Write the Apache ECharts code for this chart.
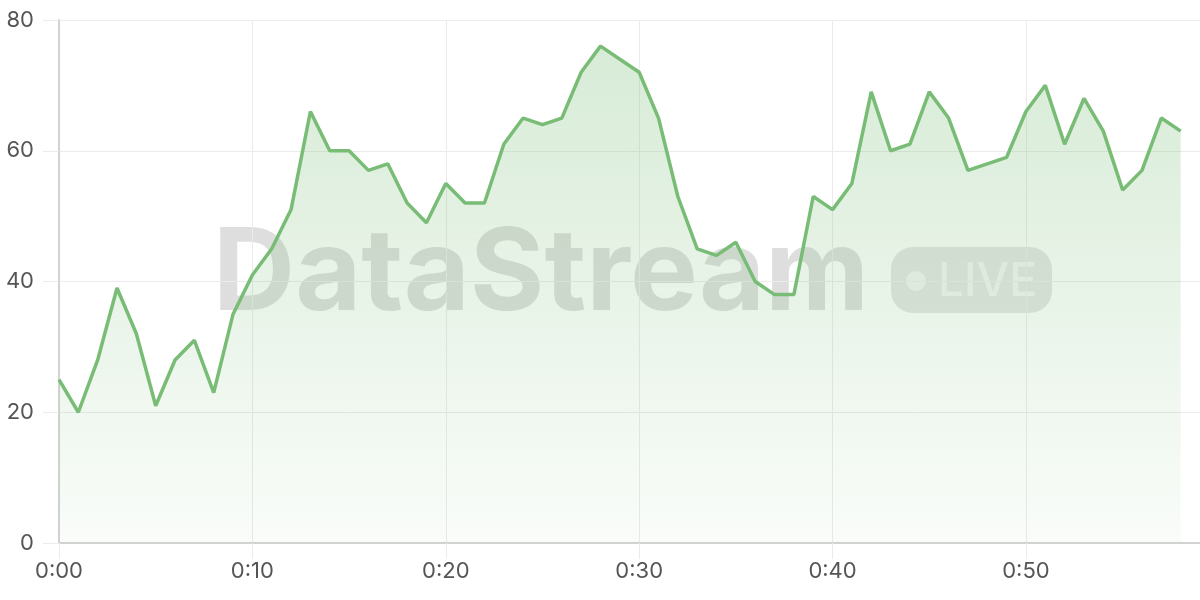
<!DOCTYPE html>
<html>
<head>
<meta charset="utf-8">
<script src="https://cdn.jsdelivr.net/npm/echarts@6/dist/echarts.min.js"></script>
<style>
  html, body { margin: 0; padding: 0; background: #fff; }
  #chart { width: 1200px; height: 600px; }
</style>
</head>
<body>
<div id="chart"></div>
<script>
// minutes 0:00 .. 0:59 (last slot has no reading yet)
const timeLabels = [];
for (let m = 0; m < 60; m++) {
  timeLabels.push('0:' + (m < 10 ? '0' + m : m));
}

const streamValues = [
  25, 20, 28, 39, 32, 21, 28, 31, 23, 35,
  41, 45, 51, 66, 60, 60, 57, 58, 52, 49,
  55, 52, 52, 61, 65, 64, 65, 72, 76, 74,
  72, 65, 53, 45, 44, 46, 40, 38, 38, 53,
  51, 55, 69, 60, 61, 69, 65, 57, 58, 59,
  66, 70, 61, 68, 63, 54, 57, 65, 63
];

const yTicks = [0, 20, 40, 60, 80];

const lineColor = '#78bc76';
const font = 'Inter, "Noto Sans", sans-serif';

const chart = echarts.init(document.getElementById('chart'));

chart.setOption({
  animation: false,
  grid: {
    left: 59,
    right: 0,
    top: 20,
    bottom: 57,
  },
  graphic: [
    {
      type: 'text',
      z: -10,
      silent: true,
      style: {
        text: 'DataStream',
        x: 541,
        y: 276,
        textAlign: 'center',
        textVerticalAlign: 'middle',
        font: '700 114px ' + font,
        fill: 'rgba(0,0,0,0.13)',
      },
    },
    {
      type: 'rect',
      z: -10,
      silent: true,
      shape: { x: 891, y: 247, width: 161, height: 66, r: 22 },
      style: { fill: 'rgba(0,0,0,0.10)' },
    },
    {
      type: 'circle',
      z: -9,
      silent: true,
      shape: { cx: 916, cy: 281, r: 10 },
      style: { fill: 'rgba(255,255,255,0.55)' },
    },
    {
      type: 'text',
      z: -9,
      silent: true,
      style: {
        text: 'LIVE',
        x: 938,
        y: 282,
        textAlign: 'left',
        textVerticalAlign: 'middle',
        font: '500 46px ' + font,
        fill: 'rgba(255,255,255,0.55)',
      },
    },
  ],
  xAxis: {
    type: 'category',
    data: timeLabels,
    boundaryGap: false,
    axisLine: {
      lineStyle: { color: '#d2d2d2', width: 2 },
    },
    axisTick: {
      show: true,
      interval: 9,
      length: 16,
      lineStyle: { color: '#ebebeb' },
    },
    axisLabel: {
      interval: 9,
      margin: 17,
      color: '#555',
      fontSize: 22,
      fontFamily: font,
    },
    splitLine: {
      show: true,
      interval: 9,
      lineStyle: { color: '#ebebeb' },
    },
  },
  yAxis: {
    type: 'value',
    min: yTicks[0],
    max: yTicks[yTicks.length - 1],
    interval: 20,
    axisLine: {
      show: true,
      lineStyle: { color: '#d2d2d2', width: 2 },
    },
    axisTick: {
      show: true,
      length: 16,
      lineStyle: { color: '#ebebeb' },
    },
    axisLabel: {
      margin: 25,
      color: '#555',
      fontSize: 22,
      fontFamily: font,
    },
    splitLine: {
      lineStyle: { color: '#ebebeb' },
    },
  },
  series: [
    {
      name: 'stream',
      type: 'line',
      data: streamValues,
      symbol: 'none',
      lineStyle: { color: lineColor, width: 3.5 },
      itemStyle: { color: lineColor },
      areaStyle: {
        color: new echarts.graphic.LinearGradient(0, 0, 0, 1, [
          { offset: 0, color: 'rgba(120,188,118,0.42)' },
          { offset: 1, color: 'rgba(120,188,118,0.06)' },
        ]),
      },
    },
  ],
});
</script>
</body>
</html>
